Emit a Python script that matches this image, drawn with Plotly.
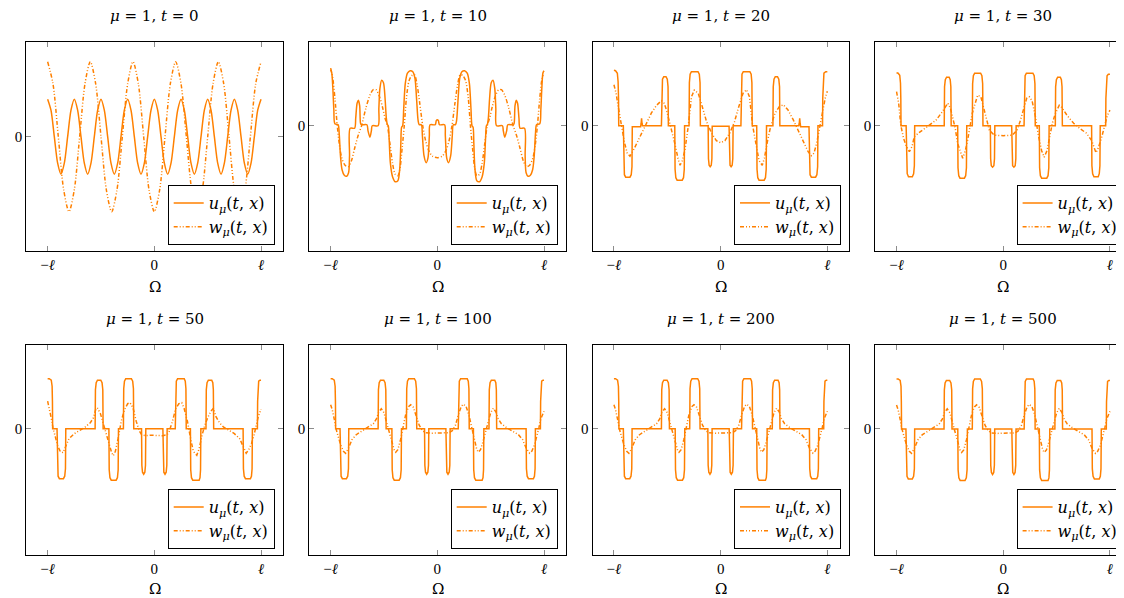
import plotly.graph_objects as go

# ---------------------------------------------------------------- data
TIMES = [0, 10, 20, 30, 50, 100, 200, 500]

# t = 0 : initial data (read at eighth periods)
U_T0_X = [-1.0, -0.9688, -0.9375, -0.9062, -0.875, -0.8438, -0.8125, -0.7812,
          -0.75, -0.7188, -0.6875, -0.6562, -0.625, -0.5938, -0.5625, -0.5312,
          -0.5, -0.4688, -0.4375, -0.4062, -0.375, -0.3438, -0.3125, -0.2812,
          -0.25, -0.2188, -0.1875, -0.1562, -0.125, -0.0938, -0.0625, -0.0312,
          0.0, 0.0312, 0.0625, 0.0938, 0.125, 0.1562, 0.1875, 0.2188,
          0.25, 0.2812, 0.3125, 0.3438, 0.375, 0.4062, 0.4375, 0.4688,
          0.5, 0.5312, 0.5625, 0.5938, 0.625, 0.6562, 0.6875, 0.7188,
          0.75, 0.7812, 0.8125, 0.8438, 0.875, 0.9062, 0.9375, 0.9688, 1.0]
U_T0_Y = [0.75, 0.53, 0.0, -0.53, -0.75, -0.53, 0.0, 0.53,
          0.75, 0.53, 0.0, -0.53, -0.75, -0.53, 0.0, 0.53,
          0.75, 0.53, 0.0, -0.53, -0.75, -0.53, 0.0, 0.53,
          0.75, 0.53, 0.0, -0.53, -0.75, -0.53, 0.0, 0.53,
          0.75, 0.53, 0.0, -0.53, -0.75, -0.53, 0.0, 0.53,
          0.75, 0.53, 0.0, -0.53, -0.75, -0.53, 0.0, 0.53,
          0.75, 0.53, 0.0, -0.53, -0.75, -0.53, 0.0, 0.53,
          0.75, 0.53, 0.0, -0.53, -0.75, -0.53, 0.0, 0.53, 0.75]
W_T0_X = [-1.0, -0.95, -0.9, -0.85, -0.8, -0.75, -0.7, -0.65, -0.6, -0.55,
          -0.5, -0.45, -0.4, -0.35, -0.3, -0.25, -0.2, -0.15, -0.1, -0.05,
          0.0, 0.05, 0.1, 0.15, 0.2, 0.25, 0.3, 0.35, 0.4, 0.45,
          0.5, 0.55, 0.6, 0.65, 0.7, 0.75, 0.8, 0.85, 0.9, 0.95, 1.0]
W_T0_Y = [1.5, 1.06, 0.0, -1.06, -1.5, -1.06, 0.0, 1.06,
          1.5, 1.06, 0.0, -1.06, -1.5, -1.06, 0.0, 1.06,
          1.5, 1.06, 0.0, -1.06, -1.5, -1.06, 0.0, 1.06,
          1.5, 1.06, 0.0, -1.06, -1.5, -1.06, 0.0, 1.06,
          1.5, 1.06, 0.0, -1.06, -1.5, -1.06, 0.0, 1.06, 1.5]

U_T10 = [
    (-1.000, 1.12), (-0.990, 1.06), (-0.980, 0.78), (-0.970, 0.32), (-0.960, 0.04), (-0.930, 0.02),
    (-0.920, -0.15), (-0.908, -0.60), (-0.893, -0.88), (-0.872, -0.99), (-0.850, -1.01), (-0.832, -0.94),
    (-0.823, -0.60), (-0.817, -0.05), (-0.775, -0.05), (-0.765, 0.15), (-0.752, 0.45), (-0.740, 0.51),
    (-0.728, 0.40), (-0.720, 0.05), (-0.712, 0.02), (-0.660, 0.02), (-0.650, -0.10), (-0.632, -0.23),
    (-0.618, -0.10), (-0.610, 0.00), (-0.555, 0.00), (-0.548, 0.35), (-0.538, 0.75), (-0.522, 0.91),
    (-0.505, 0.86), (-0.490, 0.55), (-0.478, 0.15), (-0.468, 0.02), (-0.460, 0.00), (-0.452, -0.25),
    (-0.440, -0.75), (-0.420, -1.02), (-0.395, -1.12), (-0.370, -1.10), (-0.352, -0.85), (-0.342, -0.35),
    (-0.335, -0.03), (-0.325, 0.00), (-0.315, 0.35), (-0.300, 0.85), (-0.280, 1.05), (-0.255, 1.10),
    (-0.230, 1.08), (-0.210, 0.95), (-0.195, 0.55), (-0.180, 0.10), (-0.170, 0.02), (-0.150, 0.02),
    (-0.140, -0.20), (-0.125, -0.60), (-0.105, -0.74), (-0.088, -0.65), (-0.075, -0.20), (-0.068, 0.02),
    (-0.020, 0.02), (-0.010, 0.10), (0.000, 0.12), (0.010, 0.10), (0.020, 0.02), (0.068, 0.02),
    (0.075, -0.20), (0.088, -0.65), (0.105, -0.74), (0.125, -0.60), (0.140, -0.20), (0.150, 0.02),
    (0.170, 0.02), (0.180, 0.10), (0.195, 0.55), (0.210, 0.95), (0.230, 1.08), (0.255, 1.10),
    (0.280, 1.05), (0.300, 0.85), (0.315, 0.35), (0.325, 0.00), (0.335, -0.03), (0.342, -0.35),
    (0.352, -0.85), (0.370, -1.10), (0.395, -1.12), (0.420, -1.02), (0.440, -0.75), (0.452, -0.25),
    (0.460, 0.00), (0.468, 0.02), (0.478, 0.15), (0.490, 0.55), (0.505, 0.86), (0.522, 0.91),
    (0.538, 0.75), (0.548, 0.35), (0.555, 0.00), (0.610, 0.00), (0.618, -0.10), (0.632, -0.23),
    (0.650, -0.10), (0.660, 0.02), (0.712, 0.02), (0.720, 0.05), (0.728, 0.40), (0.740, 0.51),
    (0.752, 0.45), (0.765, 0.15), (0.775, -0.05), (0.817, -0.05), (0.823, -0.60), (0.832, -0.94),
    (0.850, -1.01), (0.872, -0.99), (0.893, -0.88), (0.908, -0.60), (0.920, -0.15), (0.930, 0.02),
    (0.960, 0.04), (0.970, 0.32), (0.980, 0.78), (0.990, 1.06), (1.000, 1.10),
]
W_T10 = [
    (-1.000, 1.15), (-0.980, 0.95), (-0.960, 0.55), (-0.940, 0.05), (-0.920, -0.35), (-0.895, -0.65),
    (-0.865, -0.79), (-0.835, -0.82), (-0.805, -0.70), (-0.775, -0.45), (-0.740, -0.18), (-0.710, 0.00),
    (-0.670, 0.35), (-0.630, 0.62), (-0.600, 0.72), (-0.575, 0.72), (-0.545, 0.60), (-0.515, 0.38),
    (-0.490, 0.15), (-0.468, 0.00), (-0.445, -0.35), (-0.420, -0.75), (-0.395, -0.97), (-0.370, -1.00),
    (-0.350, -0.85), (-0.330, -0.45), (-0.310, 0.00), (-0.290, 0.55), (-0.265, 0.90), (-0.240, 1.00),
    (-0.215, 1.02), (-0.190, 0.82), (-0.165, 0.45), (-0.137, 0.00), (-0.110, -0.30), (-0.080, -0.50),
    (-0.045, -0.61), (0.000, -0.64), (0.045, -0.61), (0.080, -0.50), (0.110, -0.30), (0.137, 0.00),
    (0.165, 0.45), (0.190, 0.82), (0.215, 1.02), (0.240, 1.00), (0.265, 0.90), (0.290, 0.55),
    (0.310, 0.00), (0.330, -0.45), (0.350, -0.85), (0.370, -1.00), (0.395, -0.97), (0.420, -0.75),
    (0.445, -0.35), (0.468, 0.00), (0.490, 0.15), (0.515, 0.38), (0.545, 0.60), (0.575, 0.72),
    (0.600, 0.72), (0.630, 0.62), (0.670, 0.35), (0.710, 0.00), (0.740, -0.18), (0.775, -0.45),
    (0.805, -0.70), (0.835, -0.82), (0.865, -0.79), (0.895, -0.65), (0.920, -0.35), (0.940, 0.05),
    (0.960, 0.55), (0.980, 0.92), (1.000, 1.05),
]

U_T20 = [
    (-1.000, 1.11), (-0.985, 1.10), (-0.968, 1.05), (-0.961, 0.88), (-0.957, 0.55), (-0.955, 0.00),
    (-0.912, 0.00), (-0.909, -0.82), (-0.902, -0.98), (-0.890, -1.03), (-0.850, -1.03), (-0.838, -0.98),
    (-0.831, -0.82), (-0.828, -0.02), (-0.750, -0.02), (-0.745, 0.05), (-0.741, 0.15), (-0.737, 0.05),
    (-0.732, 0.00), (-0.555, 0.00), (-0.552, 0.78), (-0.545, 0.93), (-0.533, 0.98), (-0.512, 0.98),
    (-0.500, 0.93), (-0.493, 0.78), (-0.490, 0.00), (-0.430, 0.00), (-0.427, -0.87), (-0.420, -1.04),
    (-0.408, -1.09), (-0.360, -1.09), (-0.348, -1.04), (-0.341, -0.87), (-0.338, 0.00), (-0.296, 0.00),
    (-0.293, 0.86), (-0.286, 1.03), (-0.274, 1.08), (-0.212, 1.08), (-0.200, 1.03), (-0.193, 0.86),
    (-0.190, 0.00), (-0.117, 0.00), (-0.114, -0.66), (-0.108, -0.79), (-0.098, -0.82), (-0.088, -0.79),
    (-0.082, -0.66), (-0.079, -0.01), (0.079, -0.01), (0.082, -0.66), (0.088, -0.79), (0.098, -0.82),
    (0.108, -0.79), (0.114, -0.66), (0.117, 0.00), (0.190, 0.00), (0.193, 0.86), (0.200, 1.03),
    (0.212, 1.08), (0.274, 1.08), (0.286, 1.03), (0.293, 0.86), (0.296, 0.00), (0.338, 0.00),
    (0.341, -0.87), (0.348, -1.04), (0.360, -1.09), (0.408, -1.09), (0.420, -1.04), (0.427, -0.87),
    (0.430, 0.00), (0.490, 0.00), (0.493, 0.78), (0.500, 0.93), (0.512, 0.98), (0.533, 0.98),
    (0.545, 0.93), (0.552, 0.78), (0.555, 0.00), (0.732, 0.00), (0.737, 0.05), (0.741, 0.15),
    (0.745, 0.05), (0.750, -0.02), (0.828, -0.02), (0.831, -0.82), (0.838, -0.98), (0.850, -1.03),
    (0.890, -1.03), (0.902, -0.98), (0.909, -0.82), (0.912, 0.00), (0.955, 0.00), (0.957, 0.55),
    (0.961, 0.88), (0.968, 1.05), (0.985, 1.08), (1.000, 1.08),
]
W_T20 = [
    (-1.000, 0.82), (-0.980, 0.65), (-0.960, 0.38), (-0.930, 0.00), (-0.900, -0.35), (-0.875, -0.55),
    (-0.850, -0.61), (-0.820, -0.50), (-0.770, -0.29), (-0.710, -0.02), (-0.650, 0.25), (-0.600, 0.41),
    (-0.555, 0.50), (-0.530, 0.45), (-0.507, 0.31), (-0.466, -0.02), (-0.430, -0.35), (-0.400, -0.65),
    (-0.380, -0.79), (-0.360, -0.70), (-0.335, -0.49), (-0.304, -0.02), (-0.273, 0.58), (-0.247, 0.71),
    (-0.210, 0.65), (-0.172, 0.38), (-0.132, 0.08), (-0.085, -0.15), (-0.040, -0.30), (0.000, -0.34),
    (0.040, -0.30), (0.085, -0.15), (0.130, 0.08), (0.170, 0.38), (0.210, 0.65), (0.243, 0.72),
    (0.270, 0.58), (0.300, 0.00), (0.335, -0.45), (0.360, -0.70), (0.390, -0.79), (0.410, -0.65),
    (0.440, -0.30), (0.470, 0.00), (0.510, 0.25), (0.550, 0.38), (0.588, 0.42), (0.630, 0.32),
    (0.680, 0.12), (0.730, -0.12), (0.780, -0.35), (0.820, -0.52), (0.850, -0.60), (0.875, -0.55),
    (0.900, -0.35), (0.930, 0.00), (0.960, 0.35), (0.980, 0.55), (1.000, 0.69),
]

U_T30 = [
    (-1.000, 1.06), (-0.985, 1.05), (-0.970, 1.01), (-0.963, 0.85), (-0.960, 0.55), (-0.958, 0.00),
    (-0.910, 0.00), (-0.907, -0.80), (-0.900, -0.96), (-0.888, -1.02), (-0.852, -1.02), (-0.840, -0.96),
    (-0.833, -0.80), (-0.830, 0.00), (-0.553, 0.00), (-0.550, 0.78), (-0.543, 0.92), (-0.531, 0.97),
    (-0.507, 0.97), (-0.497, 0.92), (-0.491, 0.78), (-0.488, 0.00), (-0.427, 0.00), (-0.424, -0.84),
    (-0.417, -1.00), (-0.405, -1.05), (-0.364, -1.05), (-0.352, -1.00), (-0.345, -0.84), (-0.342, 0.00),
    (-0.290, 0.00), (-0.287, 0.84), (-0.280, 1.00), (-0.268, 1.05), (-0.212, 1.05), (-0.200, 1.00),
    (-0.193, 0.84), (-0.190, 0.00), (-0.121, 0.00), (-0.118, -0.66), (-0.112, -0.80), (-0.100, -0.83),
    (-0.088, -0.80), (-0.082, -0.66), (-0.079, 0.00), (0.079, 0.00), (0.082, -0.66), (0.088, -0.80),
    (0.100, -0.83), (0.112, -0.80), (0.118, -0.66), (0.121, 0.00), (0.195, 0.00), (0.198, 0.84),
    (0.205, 1.00), (0.217, 1.05), (0.278, 1.05), (0.290, 1.00), (0.297, 0.84), (0.300, 0.00),
    (0.338, 0.00), (0.341, -0.84), (0.348, -1.00), (0.360, -1.05), (0.408, -1.05), (0.420, -1.00),
    (0.427, -0.84), (0.430, 0.00), (0.488, 0.00), (0.491, 0.78), (0.498, 0.92), (0.510, 0.97),
    (0.535, 0.97), (0.545, 0.92), (0.551, 0.78), (0.554, 0.00), (0.828, 0.00), (0.831, -0.80),
    (0.838, -0.96), (0.850, -1.02), (0.890, -1.02), (0.900, -0.96), (0.906, -0.80), (0.909, 0.00),
    (0.960, 0.00), (0.962, 0.55), (0.966, 0.85), (0.973, 1.00), (0.985, 1.03), (1.000, 1.03),
]
W_T30 = [
    (-1.000, 0.68), (-0.980, 0.45), (-0.960, 0.01), (-0.935, -0.25), (-0.910, -0.40), (-0.880, -0.52),
    (-0.855, -0.42), (-0.834, -0.22), (-0.790, -0.14), (-0.756, -0.09), (-0.694, 0.01), (-0.630, 0.11),
    (-0.570, 0.28), (-0.520, 0.45), (-0.495, 0.35), (-0.475, 0.18), (-0.450, -0.05), (-0.428, -0.35),
    (-0.400, -0.55), (-0.380, -0.65), (-0.355, -0.50), (-0.334, -0.29), (-0.290, 0.25), (-0.260, 0.50),
    (-0.240, 0.61), (-0.210, 0.58), (-0.178, 0.31), (-0.150, 0.05), (-0.130, -0.09), (-0.084, -0.19),
    (0.000, -0.20), (0.084, -0.19), (0.130, -0.09), (0.160, 0.10), (0.190, 0.35), (0.220, 0.55),
    (0.244, 0.58), (0.270, 0.50), (0.300, 0.20), (0.330, -0.20), (0.360, -0.50), (0.384, -0.63),
    (0.410, -0.50), (0.435, -0.20), (0.460, 0.05), (0.490, 0.25), (0.525, 0.41), (0.550, 0.36),
    (0.600, 0.20), (0.660, 0.05), (0.720, -0.06), (0.780, -0.15), (0.830, -0.30), (0.869, -0.54),
    (0.890, -0.45), (0.920, -0.25), (0.950, 0.00), (0.975, 0.20), (1.000, 0.31),
]

# t >= 50 : u has settled into the same pulse train
U_LATE = [
    (-1.000, 1.00), (-0.985, 1.00), (-0.966, 0.97), (-0.958, 0.85), (-0.955, 0.55), (-0.953, 0.00),
    (-0.912, 0.00), (-0.909, -0.80), (-0.902, -0.95), (-0.890, -1.00), (-0.852, -1.00), (-0.840, -0.95),
    (-0.833, -0.80), (-0.830, 0.00), (-0.555, 0.00), (-0.552, 0.78), (-0.545, 0.92), (-0.533, 0.97),
    (-0.502, 0.97), (-0.490, 0.92), (-0.483, 0.78), (-0.480, 0.00), (-0.426, 0.00), (-0.423, -0.82),
    (-0.416, -0.98), (-0.404, -1.03), (-0.358, -1.03), (-0.346, -0.98), (-0.339, -0.82), (-0.336, 0.00),
    (-0.290, 0.00), (-0.287, 0.80), (-0.280, 0.95), (-0.268, 1.00), (-0.215, 1.00), (-0.203, 0.95),
    (-0.196, 0.80), (-0.193, 0.00), (-0.120, 0.00), (-0.117, -0.73), (-0.111, -0.87), (-0.100, -0.91),
    (-0.089, -0.87), (-0.083, -0.73), (-0.080, 0.00), (0.080, 0.00), (0.083, -0.73), (0.089, -0.87),
    (0.100, -0.91), (0.111, -0.87), (0.117, -0.73), (0.120, 0.00), (0.196, 0.00), (0.199, 0.80),
    (0.206, 0.95), (0.218, 1.00), (0.280, 1.00), (0.290, 0.95), (0.296, 0.80), (0.299, 0.00),
    (0.338, 0.00), (0.341, -0.82), (0.348, -0.98), (0.360, -1.03), (0.420, -1.03), (0.428, -0.98),
    (0.433, -0.82), (0.436, 0.00), (0.484, 0.00), (0.487, 0.78), (0.494, 0.92), (0.506, 0.97),
    (0.538, 0.97), (0.548, 0.92), (0.553, 0.78), (0.556, 0.00), (0.832, 0.00), (0.835, -0.80),
    (0.842, -0.95), (0.854, -1.00), (0.900, -1.00), (0.910, -0.95), (0.916, -0.80), (0.919, 0.00),
    (0.966, 0.00), (0.968, 0.55), (0.971, 0.85), (0.978, 0.95), (0.990, 0.97), (1.000, 0.97),
]
W_T50 = [
    (-1.000, 0.55), (-0.985, 0.42), (-0.965, 0.20), (-0.950, 0.02), (-0.930, -0.15), (-0.905, -0.35),
    (-0.880, -0.46), (-0.855, -0.48), (-0.830, -0.35), (-0.800, -0.20), (-0.750, -0.10), (-0.700, -0.03),
    (-0.650, 0.03), (-0.600, 0.12), (-0.570, 0.22), (-0.550, 0.38), (-0.535, 0.42), (-0.505, 0.30),
    (-0.478, 0.10), (-0.450, -0.10), (-0.425, -0.30), (-0.400, -0.48), (-0.385, -0.54), (-0.365, -0.45),
    (-0.340, -0.20), (-0.310, 0.15), (-0.280, 0.38), (-0.250, 0.50), (-0.228, 0.52), (-0.200, 0.42),
    (-0.170, 0.15), (-0.140, -0.05), (-0.120, -0.12), (-0.080, -0.14), (-0.040, -0.13), (0.000, -0.13),
    (0.040, -0.13), (0.080, -0.14), (0.120, -0.12), (0.140, -0.05), (0.170, 0.15), (0.200, 0.40),
    (0.230, 0.50), (0.257, 0.52), (0.280, 0.40), (0.310, 0.15), (0.340, -0.20), (0.365, -0.45),
    (0.398, -0.53), (0.420, -0.40), (0.445, -0.15), (0.470, 0.05), (0.500, 0.22), (0.530, 0.35),
    (0.554, 0.41), (0.575, 0.25), (0.610, 0.12), (0.650, 0.03), (0.700, -0.03), (0.750, -0.10),
    (0.800, -0.20), (0.835, -0.38), (0.861, -0.49), (0.885, -0.42), (0.910, -0.30), (0.935, -0.12),
    (0.955, 0.05), (0.975, 0.25), (1.000, 0.39),
]
W_LATE = [
    (-1.000, 0.48), (-0.985, 0.38), (-0.965, 0.18), (-0.952, 0.02), (-0.930, -0.15), (-0.905, -0.33),
    (-0.880, -0.45), (-0.860, -0.49), (-0.835, -0.40), (-0.800, -0.22), (-0.760, -0.12), (-0.700, -0.04),
    (-0.650, 0.02), (-0.600, 0.10), (-0.570, 0.20), (-0.550, 0.33), (-0.525, 0.40), (-0.500, 0.32),
    (-0.475, 0.12), (-0.450, -0.08), (-0.425, -0.28), (-0.405, -0.42), (-0.390, -0.47), (-0.370, -0.42),
    (-0.345, -0.22), (-0.320, 0.05), (-0.295, 0.30), (-0.270, 0.44), (-0.250, 0.48), (-0.225, 0.43),
    (-0.200, 0.28), (-0.170, 0.07), (-0.140, -0.04), (-0.110, -0.08), (-0.060, -0.09), (0.000, -0.09),
    (0.060, -0.09), (0.110, -0.08), (0.140, -0.04), (0.170, 0.07), (0.200, 0.30), (0.225, 0.45),
    (0.245, 0.49), (0.270, 0.44), (0.295, 0.28), (0.320, 0.05), (0.345, -0.22), (0.370, -0.42),
    (0.385, -0.47), (0.405, -0.42), (0.425, -0.28), (0.450, -0.08), (0.475, 0.12), (0.500, 0.32),
    (0.525, 0.41), (0.550, 0.33), (0.570, 0.20), (0.600, 0.10), (0.650, 0.02), (0.700, -0.04),
    (0.760, -0.12), (0.800, -0.22), (0.835, -0.40), (0.865, -0.49), (0.885, -0.45), (0.910, -0.33),
    (0.930, -0.18), (0.952, 0.02), (0.970, 0.20), (0.990, 0.33), (1.000, 0.35),
]

U_SERIES = [(U_T0_X, U_T0_Y), U_T10, U_T20, U_T30, U_LATE, U_LATE, U_LATE, U_LATE]
W_SERIES = [(W_T0_X, W_T0_Y), W_T10, W_T20, W_T30, W_T50, W_LATE, W_LATE, W_LATE]

# ---------------------------------------------------------------- layout
# positions below are page pixels; the page body adds an 8 px margin
PAGE_W, PAGE_H, BODY = 1124, 598, 8
W, H = PAGE_W - BODY, PAGE_H - BODY
ORANGE = "#ff8000"
SERIF = "DejaVu Serif, Liberation Serif, serif"
TICK_SERIF = "Liberation Serif, DejaVu Serif, serif"
COL_CENTER = [154.5, 437.5, 720.8, 1003.4]   # px of x = 0
HALF = 128.2                                  # px half width of frame
UNIT_X = 106.7                                # px per x unit
ROW_TOP = [41.5, 344.5]
ROW_BOT = [251.0, 555.0]
ZERO = [[136.7, 125.7, 125.7, 125.7], [428.7, 428.7, 428.7, 428.9]]
UNIT_Y = 50.0


def px(v):
    return (v - BODY) / W


def py(v):
    return 1 - (v - BODY) / H


def unzip(series):
    if isinstance(series, tuple):
        return list(series[0]), list(series[1])
    return [p[0] for p in series], [p[1] for p in series]


fig = go.Figure()
layout = dict(width=W, height=H,
              margin=dict(l=0, r=0, t=0, b=0, pad=0, autoexpand=False),
              paper_bgcolor="white", plot_bgcolor="white",
              font=dict(family=SERIF, color="black"), annotations=[])

for i, t in enumerate(TIMES):
    row, col = divmod(i, 4)
    k = i + 1
    sfx = "" if k == 1 else str(k)
    left = COL_CENTER[col] - HALF
    right = min(COL_CENTER[col] + HALF, PAGE_W)
    xr = [-1.2, -1.2 + (right - left) / UNIT_X]
    z = ZERO[row][col]
    yr = [-(ROW_BOT[row] - z) / UNIT_Y, (z - ROW_TOP[row]) / UNIT_Y]
    cut = right >= PAGE_W

    layout["xaxis" + sfx] = dict(
        domain=[px(left), min(px(right), 1.0)], range=xr, anchor="y" + sfx,
        showline=True, linecolor="black", linewidth=1, mirror="allticks",
        ticks="inside", ticklen=5, tickcolor="#8c8c8c", tickwidth=1,
        tickvals=[-1, 0, 1], ticktext=["\u2212<i>\u2113</i>", "0", "<i>\u2113</i>"],
        tickfont=dict(family=TICK_SERIF, size=15), showgrid=False,
        zeroline=False, automargin=False, fixedrange=True)
    layout["yaxis" + sfx] = dict(
        domain=[py(ROW_BOT[row]), py(ROW_TOP[row])], range=yr,
        anchor="x" + sfx, showline=True, linecolor="black", linewidth=1,
        mirror=False if cut else "allticks",
        ticks="inside", ticklen=5, tickcolor="#8c8c8c", tickwidth=1,
        tickvals=[0], ticktext=["0"], tickfont=dict(family=TICK_SERIF, size=15),
        showgrid=False, zeroline=False, automargin=False, fixedrange=True)

    ux, uy = unzip(U_SERIES[i])
    wx, wy = unzip(W_SERIES[i])
    smooth = "spline" if t <= 10 else "linear"
    lg = "legend" + sfx
    fig.add_trace(go.Scatter(
        x=ux, y=uy, mode="lines", xaxis="x" + sfx, yaxis="y" + sfx,
        line=dict(color=ORANGE, width=1.5, shape=smooth, smoothing=0.8),
        name="<i>u</i><sub><i>\u03bc</i></sub>(<i>t</i>, <i>x</i>)",
        legend=lg))
    fig.add_trace(go.Scatter(
        x=wx, y=wy, mode="lines", xaxis="x" + sfx, yaxis="y" + sfx,
        line=dict(color=ORANGE, width=1.5, shape=smooth, smoothing=0.8,
                  dash="4px,2px,1px,2px,1px,2px"),
        name="<i>w</i><sub><i>\u03bc</i></sub>(<i>t</i>, <i>x</i>)",
        legend=lg))

    layout[lg] = dict(
        x=px(COL_CENTER[col] + HALF - 8), y=py(ROW_BOT[row] - 6),
        xanchor="right", yanchor="bottom", bgcolor="white",
        bordercolor="black", borderwidth=1, font=dict(family=SERIF, size=16),
        itemwidth=30, tracegroupgap=0)

    title_y = [16.0, 318.5][row]
    omega_y = [287.0, 589.0][row]
    layout["annotations"].append(dict(
        text="<i>\u03bc</i> = 1, <i>t</i> = %d" % t, x=px(COL_CENTER[col]),
        y=py(title_y), xref="paper", yref="paper", showarrow=False,
        xanchor="center", yanchor="middle", font=dict(family=SERIF, size=15)))
    layout["annotations"].append(dict(
        text="\u03a9", x=px(COL_CENTER[col]), y=py(omega_y),
        xref="paper", yref="paper", showarrow=False,
        xanchor="center", yanchor="middle", font=dict(family=SERIF, size=15)))

fig.update_layout(**layout)
fig.write_html("out.html")
